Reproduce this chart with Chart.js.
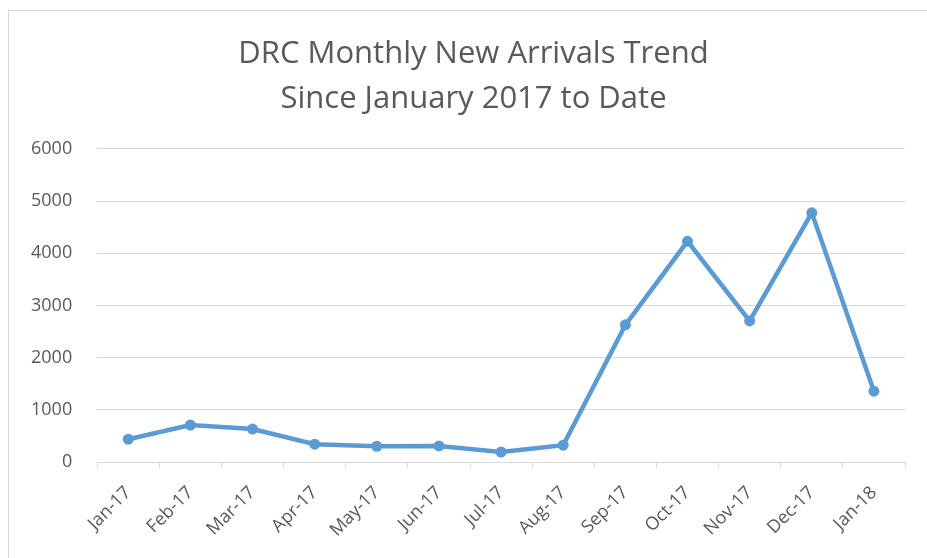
<!DOCTYPE html>
<html>
<head>
<meta charset="utf-8">
<script src="https://cdn.jsdelivr.net/npm/chart.js@4"></script>
<style>
    html, body { margin: 0; padding: 0; background: #fff; }
    #wrap { position: relative; width: 927px; height: 558px; overflow: hidden; }
    #frame { position: absolute; left: 8px; top: 10px; width: 940px; height: 600px; border: 1px solid #d9d9d9; }
    canvas { position: absolute; left: 0; top: 0; }
</style>
</head>
<body>
<div id="wrap">
    <div id="frame"></div>
    <canvas id="arrivalsChart" width="927" height="558"></canvas>
</div>
<script>
const months = ['Jan-17', 'Feb-17', 'Mar-17', 'Apr-17', 'May-17', 'Jun-17', 'Jul-17',
    'Aug-17', 'Sep-17', 'Oct-17', 'Nov-17', 'Dec-17', 'Jan-18'];
const arrivals = [440, 710, 635, 345, 305, 312, 195, 325, 2630, 4230, 2705, 4775, 1360];
const yTicks = [0, 1000, 2000, 3000, 4000, 5000, 6000];
const titleLines = ['DRC Monthly New Arrivals Trend', 'Since January 2017 to Date'];

const inkColor = '#595959';
const gridColor = '#d9d9d9';
const lineColor = '#5b9bd5';

// The original title sits a little right of the canvas centre; nudge the title box.
const titleShift = {
    id: 'titleShift',
    afterLayout(chart) {
        if (chart.titleBlock) {
            chart.titleBlock.left += 18;
            chart.titleBlock.right += 18;
        }
    },
};

new Chart(document.getElementById('arrivalsChart'), {
    type: 'line',
    data: {
        labels: months,
        datasets: [{
            data: arrivals,
            borderColor: lineColor,
            backgroundColor: lineColor,
            borderWidth: 4.5,
            pointRadius: 5.5,
            pointBackgroundColor: lineColor,
            pointBorderWidth: 0,
            tension: 0,
        }],
    },
    plugins: [titleShift],
    options: {
        responsive: false,
        animation: false,
        layout: { padding: { left: 6, right: 22, top: 32, bottom: 3 } },
        plugins: {
            legend: { display: false },
            tooltip: { enabled: false },
            title: {
                display: true,
                text: titleLines,
                color: inkColor,
                font: { family: 'Open Sans', size: 31, weight: 'normal', lineHeight: 1.45 },
                padding: { top: 0, bottom: 27 },
            },
        },
        scales: {
            x: {
                offset: true,
                grid: {
                    offset: true,
                    drawOnChartArea: false,
                    drawTicks: true,
                    tickLength: 6,
                    color: gridColor,
                },
                border: { color: gridColor, width: 1 },
                ticks: {
                    color: inkColor,
                    font: { family: 'Open Sans', size: 18 },
                    minRotation: 45,
                    maxRotation: 45,
                    padding: 14,
                },
            },
            y: {
                min: 0,
                max: 6000,
                afterBuildTicks: (axis) => {
                    axis.ticks = yTicks.map((v) => ({ value: v }));
                },
                grid: { color: gridColor, drawTicks: false },
                border: { display: false },
                ticks: {
                    color: inkColor,
                    font: { family: 'Open Sans', size: 18 },
                    padding: 25,
                    callback: (value) => String(value),
                },
            },
        },
    },
});
</script>
</body>
</html>
